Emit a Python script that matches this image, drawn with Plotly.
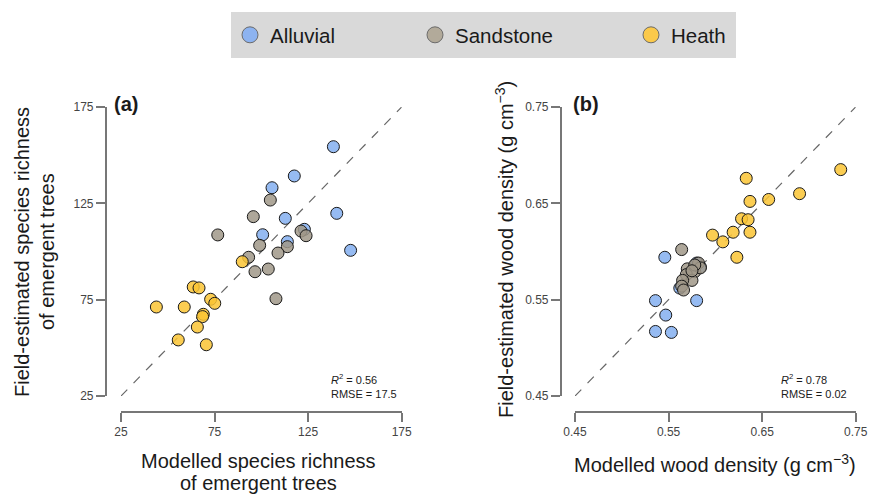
import plotly.graph_objects as go

W, H = 869, 494

# ---------------- data ----------------
groups = ["Alluvial", "Sandstone", "Heath"]
colors = {"Alluvial": "rgba(132,175,240,0.85)", "Sandstone": "rgba(160,152,136,0.85)", "Heath": "rgba(250,196,52,0.85)"}
legend_colors = {"Alluvial": "#8db3f0", "Sandstone": "#b2aa9a", "Heath": "#fbc94a"}

a_ticks = [25, 75, 125, 175]
b_ticks = [0.45, 0.55, 0.65, 0.75]
b_tick_text = ["0.45", "0.55", "0.65", "0.75"]

a_alluvial_mod = [138.5, 117.6, 105.7, 140.3, 112.8, 123.0, 100.7, 113.9, 147.7]
a_alluvial_obs = [154.4, 139.2, 133.1, 119.8, 117.2, 111.5, 108.7, 105.1, 100.6]
a_sand_mod = [104.8, 95.7, 76.7, 121.2, 123.9, 99.1, 113.9, 108.9, 93.2, 96.6, 103.7, 107.8]
a_sand_obs = [126.7, 118.1, 108.6, 110.6, 108.2, 103.2, 102.5, 99.2, 97.0, 89.5, 90.9, 75.5]
a_heath_mod = [89.8, 63.6, 66.7, 72.9, 75.1, 43.9, 58.8, 69.0, 68.6, 65.8, 55.6, 70.6]
a_heath_obs = [94.7, 81.6, 81.1, 75.2, 73.1, 71.2, 71.2, 67.4, 66.2, 60.8, 54.1, 51.6]

b_alluvial_mod = [0.546, 0.536, 0.580, 0.547, 0.536, 0.553, 0.562, 0.580, 0.584]
b_alluvial_obs = [0.594, 0.549, 0.549, 0.534, 0.517, 0.516, 0.562, 0.588, 0.584]
b_sand_mod = [0.564, 0.582, 0.570, 0.578, 0.584, 0.569, 0.575, 0.565, 0.564, 0.566, 0.578, 0.575]
b_sand_obs = [0.602, 0.588, 0.582, 0.579, 0.583, 0.576, 0.570, 0.570, 0.564, 0.560, 0.586, 0.580]
b_heath_mod = [0.734, 0.633, 0.690, 0.657, 0.637, 0.628, 0.635, 0.637, 0.619, 0.597, 0.608, 0.623]
b_heath_obs = [0.685, 0.676, 0.660, 0.654, 0.652, 0.634, 0.633, 0.620, 0.620, 0.617, 0.610, 0.594]

a_stats = "<i>R</i><sup>2</sup> = 0.56<br>RMSE = 17.5"
b_stats = "<i>R</i><sup>2</sup> = 0.78<br>RMSE = 0.02"

panel_a = {"Alluvial": (a_alluvial_mod, a_alluvial_obs), "Sandstone": (a_sand_mod, a_sand_obs), "Heath": (a_heath_mod, a_heath_obs)}
panel_b = {"Alluvial": (b_alluvial_mod, b_alluvial_obs), "Sandstone": (b_sand_mod, b_sand_obs), "Heath": (b_heath_mod, b_heath_obs)}

FONT = "Liberation Sans, Arial, sans-serif"

def px(x):
    return x / W

def py(y):
    return 1 - y / H

fig = go.Figure()

# 1:1 lines
fig.add_trace(go.Scatter(x=[a_ticks[0], a_ticks[-1]], y=[a_ticks[0], a_ticks[-1]], mode="lines",
                         line=dict(color="#666666", width=1.2, dash="dash"), showlegend=False,
                         xaxis="x", yaxis="y", hoverinfo="skip"))
fig.add_trace(go.Scatter(x=[b_ticks[0], b_ticks[-1]], y=[b_ticks[0], b_ticks[-1]], mode="lines",
                         line=dict(color="#666666", width=1.2, dash="dash"), showlegend=False,
                         xaxis="x2", yaxis="y2", hoverinfo="skip"))

for g in groups:
    xs, ys = panel_a[g]
    fig.add_trace(go.Scatter(x=xs, y=ys, mode="markers", xaxis="x", yaxis="y", showlegend=False,
                             marker=dict(size=12, color=colors[g], line=dict(color="#1a1a1a", width=1))))
for g in groups:
    xs, ys = panel_b[g]
    fig.add_trace(go.Scatter(x=xs, y=ys, mode="markers", xaxis="x2", yaxis="y2", showlegend=False,
                             marker=dict(size=12, color=colors[g], line=dict(color="#1a1a1a", width=1))))

# legend-only entries (three separate legends for exact placement)
legend_names = ["legend", "legend2", "legend3"]
legend_x = [230, 415, 631]
for g, ln in zip(groups, legend_names):
    fig.add_trace(go.Scatter(x=[None], y=[None], mode="markers", name=g, legend=ln, xaxis="x", yaxis="y",
                             marker=dict(size=16, color=legend_colors[g], line=dict(color="#6b6b6b", width=1))))

axis_common = dict(showgrid=False, zeroline=False, showline=True, linecolor="#777777", linewidth=1.5,
                   ticks="outside", ticklen=9, tickwidth=1.5, tickcolor="#777777", automargin=False,
                   tickfont=dict(family=FONT, size=12, color="#444444"))

layout = dict(
    width=W, height=H,
    margin=dict(l=0, r=0, t=0, b=0, autoexpand=False),
    paper_bgcolor="white", plot_bgcolor="white",
    font=dict(family=FONT, color="#1a1a1a"),
    xaxis=dict(domain=[px(121), px(401.7)], range=[a_ticks[0], a_ticks[-1]], tickvals=a_ticks,
               anchor="free", position=py(412.3), **axis_common),
    yaxis=dict(domain=[py(396), py(107)], range=[a_ticks[0], a_ticks[-1]], tickvals=a_ticks,
               anchor="free", position=px(105.7), **axis_common),
    xaxis2=dict(domain=[px(575), px(855.7)], range=[b_ticks[0], b_ticks[-1]], tickvals=b_ticks, ticktext=b_tick_text,
                anchor="free", position=py(412.3), **axis_common),
    yaxis2=dict(domain=[py(396), py(107)], range=[b_ticks[0], b_ticks[-1]], tickvals=b_ticks, ticktext=b_tick_text,
                anchor="free", position=px(560.7), **axis_common),
    shapes=[dict(type="rect", xref="paper", yref="paper", x0=px(231), x1=px(736), y0=py(58), y1=py(12),
                 fillcolor="#d9d9d9", line=dict(width=0), layer="below")],
)
for ln, lx in zip(legend_names, legend_x):
    layout[ln] = dict(x=px(lx), xanchor="left", y=py(35), yanchor="middle", bgcolor="rgba(0,0,0,0)",
                      font=dict(family=FONT, size=20.5, color="#1a1a1a"), orientation="h")
fig.update_layout(**layout)

ann = []
def text(t, x, y, size, angle=0, xanchor="center", yanchor="middle", align="center"):
    ann.append(dict(text=t, x=px(x), y=py(y), xref="paper", yref="paper", showarrow=False,
                    textangle=angle, xanchor=xanchor, yanchor=yanchor, align=align,
                    font=dict(family=FONT, size=size, color="#1a1a1a")))

text("<b>(a)</b>", 112, 104, 20, xanchor="left")
text("<b>(b)</b>", 571, 104, 20, xanchor="left")
text(a_stats, 329, 386, 11, xanchor="left", align="left")
text(b_stats, 779, 386, 11, xanchor="left", align="left")
text("Modelled species richness", 258, 461, 20)
text("of emergent trees", 258, 483, 20)
text("Field-estimated species richness", 22, 252, 20, angle=-90)
text("of emergent trees", 47, 252, 20, angle=-90)
text("Modelled wood density (g cm<sup>−3</sup>)", 715, 463, 20)
text("Field-estimated wood density (g cm<sup>−3</sup>)", 504, 250, 20, angle=-90)
fig.update_layout(annotations=ann)

fig.write_html("out.html", config={"displayModeBar": False},
               post_script="document.body.style.margin='0';document.body.style.padding='0';document.body.style.overflow='hidden';")
